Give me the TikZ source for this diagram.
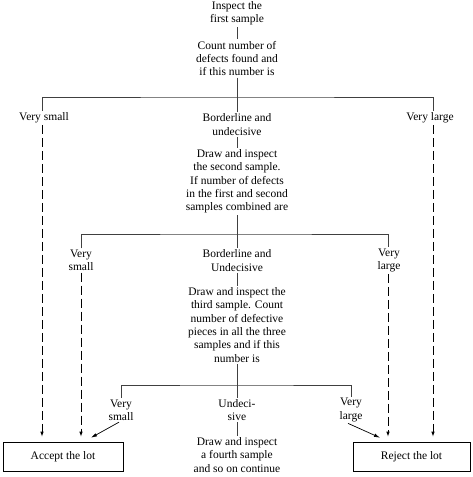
\documentclass[tikz,border=0pt]{standalone}
\usepackage{fontspec}
\setmainfont{Liberation Serif}
\usetikzlibrary{arrows.meta}
\tikzset{
txt/.style={
	  align=center, inner sep=1.5pt,
	  font=\fontsize{11.5}{13.3}\selectfont},
lotbox/.style={
	  txt, draw, line width=0.6pt, minimum height=29pt},
link/.style={line width=0.5pt, black!75},
dasharrow/.style={
	  line width=0.8pt, dash pattern=on 9pt off 4pt,
	  -{Latex[length=5pt,width=3.5pt]}, shorten >=5pt},
solidarrow/.style={
	  line width=0.7pt, -{Latex[length=6pt,width=3.5pt]}}
}

\begin{document}
\begin{tikzpicture}[x=1pt, y=-1pt]
	\useasboundingbox (0,0) rectangle (473,477);
	% dashed columns
	\coordinate (c1) at (42,0);
	\coordinate (c2) at (81,0);
	\coordinate (c3) at (388,0);
	\coordinate (c4) at (433,0);
	% first sample
	\node[txt] (insp) at (237,13.5) {Inspect the\\first sample};
	\node[txt] (count) at (237,58.5) {Count number of\\defects found and\\if this number is};
	\coordinate (j1) at (237,97);
	\node[txt] (vs1) at (44,118) {Very small};
	\node[txt] (bl1) at (237,124.5) {Borderline and\\undecisive};
	\node[txt] (vl1) at (430,118) {Very large};
	% second sample
	\node[txt] (draw2) at (237,181.5) {Draw and inspect\\the second sample.\\If number of defects\\in the first and second\\samples combined are};
	\coordinate (j2) at (237,234);
	\node[txt] (vs2) at (81,260.5) {Very\\small};
	\node[txt] (bl2) at (237,260.5) {Borderline and\\Undecisive};
	\node[txt] (vl2) at (389,260.5) {Very\\large};
	% third sample
	\node[txt] (draw3) at (237,325) {Draw and inspect the\\third sample. Count\\number of defective\\pieces in all the three\\samples and if this\\number is};
	\coordinate (j3) at (237,385);
	\node[txt] (vs3) at (121,410) {Very\\small};
	\node[txt] (un3) at (237,410) {Undeci-\\sive};
	\node[txt] (vl3) at (351,410) {Very\\large};
	\node[txt] (draw4) at (237,455) {Draw and inspect\\a fourth sample\\and so on continue};
	% decisions
	\node[lotbox, minimum width=120pt] (acc) at (63,456.5) {Accept the lot};
	\node[lotbox, minimum width=117pt] (rej) at (411.5,456.5) {Reject the lot};

	\draw[link] (insp) -- (count);
	\draw[link] (count) -- (bl1);
	\draw[link] (vs1.north -| c1) |- (j1) -| (vl1.north -| c4);
	\draw[link] (bl1) -- (draw2);
	\draw[link] (draw2) -- (bl2);
	\draw[link] (vs2.north -| c2) |- (j2) -| (vl2.north -| c3);
	\draw[link] (bl2) -- (draw3);
	\draw[link] (draw3) -- (un3);
	\draw[link] (vs3.north) |- (j3) -| (vl3.north);
	\draw[link] (un3) -- (draw4);

	\draw[dasharrow] (vs1.south -| c1) -- (acc.north -| c1);
	\draw[dasharrow] (vs2.south -| c2) -- (acc.north -| c2);
	\draw[dasharrow] (vl2.south -| c3) -- (rej.north -| c3);
	\draw[dasharrow] (vl1.south -| c4) -- (rej.north -| c4);
	\draw[solidarrow] ([xshift=-2pt]vs3.south) -- ([xshift=28pt,yshift=4pt]acc.north);
	\draw[solidarrow] ([xshift=-3pt]vl3.south) -- ([xshift=-31.5pt,yshift=4pt]rej.north);
\end{tikzpicture}
\end{document}
